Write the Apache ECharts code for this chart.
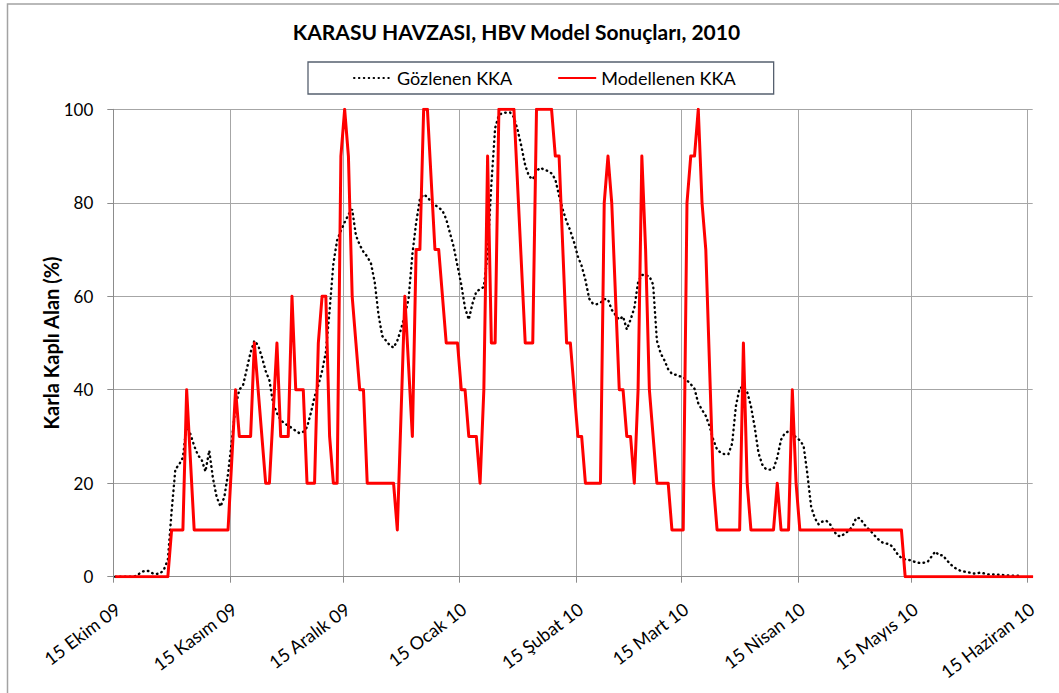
<!DOCTYPE html>
<html>
<head>
<meta charset="utf-8">
<title>KARASU HAVZASI, HBV Model Sonuçları, 2010</title>
<script src="https://cdn.jsdelivr.net/npm/echarts@6/dist/echarts.min.js"></script>
<style>
  html, body { margin: 0; padding: 0; background: #ffffff; }
  #chart { width: 1059px; height: 693px; }
</style>
</head>
<body>
<div id="chart"></div>
<script>
// Season start: daily series below are indexed in days from this date
const startDate = '2009-10-15';

// Axis ticks (15th of each month) and their labels
const tickDates = ['2009-10-15', '2009-11-15', '2009-12-15', '2010-01-15', '2010-02-15',
                   '2010-03-15', '2010-04-15', '2010-05-15', '2010-06-15'];
const tickLabels = ['15 Ekim 09', '15 Kasım 09', '15 Aralık 09', '15 Ocak 10', '15 Şubat 10',
                    '15 Mart 10', '15 Nisan 10', '15 Mayıs 10', '15 Haziran 10'];

const seriesNames = ['Gözlenen KKA', 'Modellenen KKA'];

// Observed snow covered area (%), one value per day from startDate
const observed = [
  0, 0, 0, 0, 0, 0, 0.4, 1, 1.3, 1.2, 0.7, 0.6, 0.7, 1.6, 3.6,
  14, 23, 24, 25.5, 32.5, 30.5, 28, 26, 25, 22.5, 27, 21, 17, 15, 17,
  22, 29, 36.5, 40, 41, 44.5, 48, 50.5, 49.5, 47, 44, 42, 37, 35, 33.5,
  32.8, 32.3, 31.8, 31.2, 30.7, 31, 32, 35, 38.5, 41, 44, 48, 57, 67, 72,
  74, 75.8, 77.5, 78.6, 73, 71, 69.5, 68.5, 67, 63, 56, 51.5, 50.5, 49.5, 49,
  50.5, 53, 56, 59.5, 69, 75.7, 80.8, 81.8, 81.2, 80.2, 79.5, 79, 78.3, 76.5, 73.5,
  70.5, 66.5, 62.5, 57.5, 55, 58.5, 61, 61.5, 62, 69, 84, 96, 98.8, 99.2, 99.3,
  99.3, 98.3, 95.5, 92, 88, 85.7, 85, 86.8, 87.5, 87.1, 86.8, 86.3, 85, 81.5, 78.5,
  76, 74, 71.5, 68.5, 66.5, 63.5, 59.5, 58.4, 58.3, 58.6, 59.4, 59.3, 57.1, 56, 55,
  55.7, 52.9, 55, 57.5, 63, 64.6, 64.4, 64.3, 62.5, 50.5, 47.8, 46.3, 44.4, 43.4, 43.2,
  42.9, 42.7, 42, 41.2, 40.2, 37.1, 35.7, 34.4, 32.2, 29.3, 27.2, 26.5, 26.2, 26.2, 28.5,
  36.5, 40.3, 40.7, 39.5, 36.5, 32, 26.5, 24, 23, 22.9, 23.1, 25.5, 29.3, 30.7, 31.1,
  30.6, 29.8, 29.2, 28, 22, 15, 12.5, 11.2, 11.8, 12, 11.3, 9.8, 8.8, 8.6, 9.3,
  9.8, 10.8, 12.6, 12.5, 11.3, 10.4, 9.6, 8.7, 7.9, 7.3, 7.1, 6.9, 6, 4.8, 4,
  3.7, 3.6, 3.3, 3.1, 2.9, 3, 3.2, 4.3, 5.4, 4.6, 4.6, 3.6, 2.7, 2, 1.5,
  1.2, 1.05, 0.9, 0.7, 0.7, 0.9, 0.7, 0.5, 0.45, 0.5, 0.4, 0.35, 0.3, 0.25, 0.2,
  0.2
];

// Modelled snow covered area (%): [day from startDate, value] at each break in the line
const modelled = [
  [0, 0], [14, 0], [15, 10], [18, 10], [19, 40], [21, 10], [30, 10], [32, 40], [33, 30],
  [36, 30], [37, 50], [40, 20], [41, 20], [43, 50], [44, 30], [46, 30], [47, 60], [48, 40],
  [50, 40], [51, 20], [53, 20], [54, 50], [55, 60], [56, 60], [57, 30], [58, 20], [59, 20],
  [60, 90], [61, 100], [62, 90], [63, 60], [64, 50], [65, 40], [66, 40], [67, 20], [74, 20],
  [75, 10], [77, 60], [79, 30], [80, 70], [81, 70], [82, 100], [83, 100], [85, 70], [86, 70],
  [88, 50], [91, 50], [92, 40], [93, 40], [94, 30], [96, 30], [97, 20], [98, 40], [99, 90],
  [100, 50], [101, 50], [102, 100], [106, 100], [109, 50], [111, 50], [112, 100], [116, 100],
  [117, 90], [118, 90], [120, 50], [121, 50], [123, 30], [124, 30], [125, 20], [129, 20],
  [130, 80], [131, 90], [132, 80], [134, 40], [135, 40], [136, 30], [137, 30], [138, 20],
  [139, 40], [140, 90], [141, 70], [142, 40], [144, 20], [147, 20], [148, 10], [151, 10],
  [152, 80], [153, 90], [154, 90], [155, 100], [156, 80], [157, 70], [159, 20], [160, 10],
  [166, 10], [167, 50], [168, 20], [169, 10], [175, 10], [176, 20], [177, 10], [179, 10],
  [180, 40], [181, 20], [182, 10], [209, 10], [210, 0], [244, 0]
];

const DAY_MS = 86400000;
const dayOf = d => Math.round((Date.parse(d) - Date.parse(startDate)) / DAY_MS);
const tickDays = tickDates.map(dayOf);
// rotated date labels hang slightly to the right of their tick
const LABEL_SHIFT = 1.2;
const labelDays = tickDays.map(d => d + LABEL_SHIFT);
const labelByDay = {};
tickDays.forEach((d, i) => { labelByDay[d] = tickLabels[i]; });

// Each daily value is placed in the middle of its day
const observedPoints = observed.map((v, i) => [i + 0.5, v]);
const modelledPoints = modelled.map(([d, v]) => [d + 0.5, v]);

const FONT = 'Lato, "Open Sans", sans-serif';
const GRID_COLOR = '#a6a6a6';
const AXIS_COLOR = '#8c8c8c';

const chart = echarts.init(document.getElementById('chart'), null, { renderer: 'svg' });

chart.setOption({
  animation: false,
  backgroundColor: '#ffffff',
  textStyle: { fontFamily: FONT },
  graphic: [
    {
      type: 'rect', silent: true, z: -10,
      shape: { x: 7.5, y: 4, width: 1200, height: 900 },
      style: { fill: 'none', stroke: '#a3a3a3', lineWidth: 1.5 }
    },
    {
      type: 'text', silent: true,
      x: 516.5, y: 21,
      style: {
        text: 'KARASU HAVZASI, HBV Model Sonuçları, 2010',
        fontFamily: FONT, fontSize: 21, fontWeight: 'bold',
        fill: '#000000', align: 'center', verticalAlign: 'top'
      }
    },
    {
      // vertical axis title
      type: 'text', silent: true,
      x: 51, y: 343, rotation: Math.PI / 2,
      style: {
        text: 'Karla Kaplı Alan (%)',
        fontFamily: FONT, fontSize: 20, fontWeight: 'bold',
        fill: '#000000', align: 'center', verticalAlign: 'middle'
      }
    }
  ],
  legend: {
    data: seriesNames,
    left: 308, top: 62,
    padding: [7, 38, 7, 45],
    itemGap: 45, itemWidth: 38, itemHeight: 14,
    borderColor: '#56606f', borderWidth: 1.3,
    textStyle: { fontFamily: FONT, fontSize: 18, color: '#000000' }
  },
  grid: { left: 113.3, right: 26.3, top: 109.3, bottom: 116.3, containLabel: false },
  xAxis: {
    type: 'value',
    min: 0, max: 244.4,
    axisLine: { show: true, lineStyle: { color: AXIS_COLOR, width: 1 } },
    axisTick: { show: true, customValues: tickDays, length: 6, lineStyle: { color: AXIS_COLOR } },
    axisLabel: {
      customValues: labelDays,
      rotate: 37, margin: 30,
      fontFamily: FONT, fontSize: 18, color: '#000000',
      formatter: v => labelByDay[Math.round(v - LABEL_SHIFT)] || ''
    },
    splitLine: { show: true, lineStyle: { color: GRID_COLOR, width: 1 } }
  },
  yAxis: {
    type: 'value',
    min: 0, max: 100, interval: 20,
    axisLine: { show: true, lineStyle: { color: AXIS_COLOR, width: 1 } },
    axisTick: { show: true, length: 6, lineStyle: { color: AXIS_COLOR } },
    axisLabel: { margin: 20, fontFamily: FONT, fontSize: 17, color: '#000000' },
    splitLine: { show: true, lineStyle: { color: GRID_COLOR, width: 1 } }
  },
  series: [
    {
      name: seriesNames[0],
      type: 'line',
      data: observedPoints,
      symbol: 'none',
      lineStyle: { color: '#000000', width: 2.4, type: [0.5, 4.4], cap: 'round' },
      itemStyle: { color: '#000000', opacity: 0 },
      z: 2
    },
    {
      name: seriesNames[1],
      type: 'line',
      data: modelledPoints,
      symbol: 'none',
      lineStyle: { color: '#ff0000', width: 3, join: 'round' },
      itemStyle: { color: '#ff0000', opacity: 0 },
      z: 3
    }
  ]
});
</script>
</body>
</html>
